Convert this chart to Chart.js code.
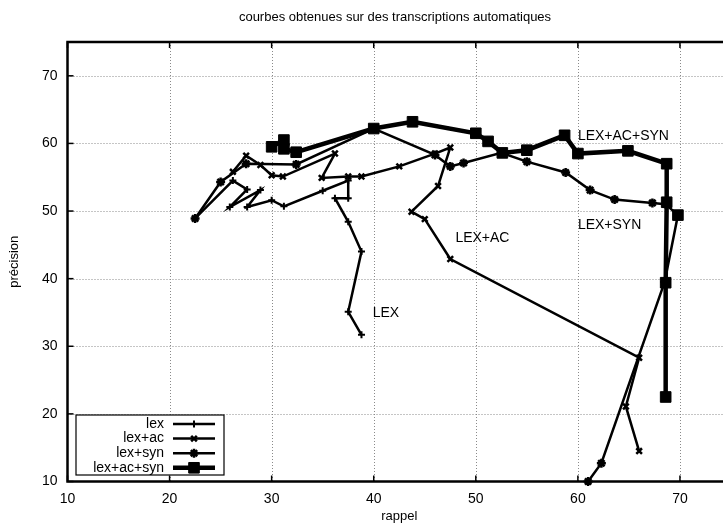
<!DOCTYPE html>
<html><head><meta charset="utf-8">
<script src="https://cdn.jsdelivr.net/npm/chart.js@4/dist/chart.umd.min.js"></script>
<style>
html,body{margin:0;padding:0;overflow:hidden;background:#fff;width:723px;height:525px}
#wrap{width:740px;height:525px}
canvas{display:block}
</style>
</head><body><div id="wrap"><canvas id="c" width="740" height="525"></canvas></div>
<script>
const FONT = '"Liberation Sans", Arial, Helvetica, sans-serif';
const chartTitle = 'courbes obtenues sur des transcriptions automatiques';
const xTitle = 'rappel';
const yTitle = 'précision';
const xTicks = [10, 20, 30, 40, 50, 60, 70];
const yTicks = [10, 20, 30, 40, 50, 60, 70];
const seriesNames = ['lex', 'lex+ac', 'lex+syn', 'lex+ac+syn'];

const lexRecall    = [22.5, 26.2, 27.6, 25.9, 28.9, 27.6, 30.0, 31.2, 35.0, 37.5, 37.5, 36.2, 37.5, 38.8, 37.5, 38.8];
const lexPrecision = [48.9, 54.5, 53.2, 50.6, 53.1, 50.6, 51.6, 50.7, 53.0, 54.5, 51.9, 51.9, 48.4, 44.0, 35.1, 31.7];

const lexAcRecall    = [26.2, 27.5, 28.9, 30.0, 31.1, 36.2, 34.9, 37.5, 38.8, 42.5, 46.0, 47.5, 46.3, 43.7, 45.0, 47.5, 66.0, 64.7, 66.0];
const lexAcPrecision = [55.8, 58.2, 56.8, 55.3, 55.1, 58.5, 54.9, 55.1, 55.1, 56.6, 58.5, 59.4, 53.7, 49.9, 48.8, 42.9, 28.3, 21.1, 14.5];

const lexSynRecall    = [22.5, 25.0, 27.5, 32.4, 40.0, 46.0, 47.5, 48.8, 52.5, 55.0, 58.8, 61.2, 63.6, 67.3, 68.6, 69.8, 68.5, 62.3, 61.0];
const lexSynPrecision = [48.9, 54.3, 57.0, 56.9, 62.2, 58.3, 56.6, 57.1, 58.6, 57.3, 55.7, 53.1, 51.7, 51.2, 51.0, 49.4, 39.5, 12.7, 10.0];

const lexAcSynRecall    = [30.0, 31.2, 31.2, 32.4, 40.0, 43.8, 50.0, 51.2, 52.6, 55.0, 58.7, 60.0, 64.9, 68.7, 68.7, 68.6, 68.6, 69.8, 69.8];
const lexAcSynPrecision = [59.5, 60.5, 59.2, 58.7, 62.2, 63.2, 61.5, 60.3, 58.6, 59.0, 61.2, 58.5, 58.9, 57.0, 51.3, 39.4, 22.5, null, 49.4];

const curveLabels = ['LEX', 'LEX+AC', 'LEX+SYN', 'LEX+AC+SYN'];
const curveLabelX = [39.9, 48.0, 60.0, 60.0];
const curveLabelY = [34.9, 46.0, 47.9, 61.1];

function pts(xs, ys){ return xs.map((v,i)=>({x:v, y:ys[i]})); }

const styles = [
  {pointStyle:'cross',    pointRadius:3.5, borderWidth:2.5, pointBorderWidth:2},
  {pointStyle:'crossRot', pointRadius:4,   borderWidth:2.5, pointBorderWidth:2.5},
  {pointStyle:'star',     pointRadius:4.5, borderWidth:2.5, pointBorderWidth:2.5},
  {pointStyle:'rect',     pointRadius:7.5, borderWidth:4.5, pointBorderWidth:1}
];
const seriesData = [
  pts(lexRecall, lexPrecision),
  pts(lexAcRecall, lexAcPrecision),
  pts(lexSynRecall, lexSynPrecision),
  pts(lexAcSynRecall, lexAcSynPrecision)
];

const datasets = seriesNames.map((n,i)=>({
  label:n, data:seriesData[i],
  borderColor:'#000', backgroundColor:'#000',
  pointBackgroundColor:'#000', pointBorderColor:'#000',
  pointStyle:styles[i].pointStyle, pointRadius:styles[i].pointRadius,
  pointBorderWidth:styles[i].pointBorderWidth, borderWidth:styles[i].borderWidth,
  tension:0, spanGaps:false, clip:false, fill:false, borderJoinStyle:'miter'
}));

function drawMarker(ctx, st, x, y){
  if (Chart.helpers && Chart.helpers.drawPoint) {
    ctx.fillStyle='#000'; ctx.strokeStyle='#000';
    ctx.lineWidth = st.pointBorderWidth;
    Chart.helpers.drawPoint(ctx, {pointStyle:st.pointStyle, radius:st.pointRadius, rotation:0, borderWidth:st.pointBorderWidth}, x, y);
  }
}

const deco = {
  id:'deco',
  beforeDatasetsDraw(chart){
    const {ctx, chartArea:a, scales:{x, y}} = chart;
    ctx.save();
    ctx.strokeStyle = '#8a8a8a'; ctx.lineWidth = 1; ctx.setLineDash([1,2]);
    xTicks.forEach(v=>{
      if (v === x.min) return;
      const px = Math.round(x.getPixelForValue(v)) + 0.5;
      ctx.beginPath(); ctx.moveTo(px, a.top); ctx.lineTo(px, a.bottom); ctx.stroke();
    });
    yTicks.forEach(v=>{
      if (v === y.min) return;
      const py = Math.round(y.getPixelForValue(v)) + 0.5;
      ctx.beginPath(); ctx.moveTo(a.left, py); ctx.lineTo(a.right, py); ctx.stroke();
    });
    ctx.setLineDash([]); ctx.strokeStyle = '#000'; ctx.lineWidth = 1.5;
    xTicks.forEach(v=>{
      const px = x.getPixelForValue(v);
      ctx.beginPath(); ctx.moveTo(px, a.bottom); ctx.lineTo(px, a.bottom-6);
      ctx.moveTo(px, a.top); ctx.lineTo(px, a.top+6); ctx.stroke();
    });
    yTicks.forEach(v=>{
      const py = y.getPixelForValue(v);
      ctx.beginPath(); ctx.moveTo(a.left, py); ctx.lineTo(a.left+6, py); ctx.stroke();
    });
    ctx.lineWidth = 2.5;
    ctx.strokeRect(a.left, a.top, a.right-a.left, a.bottom-a.top);
    ctx.restore();
  },
  afterDatasetsDraw(chart){
    const {ctx, chartArea:a, scales:{x, y}} = chart;
    ctx.save();
    ctx.fillStyle = '#000';
    ctx.font = '14px ' + FONT;
    ctx.textAlign = 'left'; ctx.textBaseline = 'middle';
    curveLabels.forEach((t,i)=>{
      ctx.fillText(t, x.getPixelForValue(curveLabelX[i]), y.getPixelForValue(curveLabelY[i]));
    });
    const bx = a.left + 8.5, by = a.bottom - 66.5, bw = 148, bh = 60;
    ctx.fillStyle = '#fff'; ctx.fillRect(bx, by, bw, bh);
    ctx.strokeStyle = '#000'; ctx.lineWidth = 1.2; ctx.strokeRect(bx, by, bw, bh);
    ctx.font = '14px ' + FONT; ctx.textAlign = 'right';
    chart.data.datasets.forEach((ds,i)=>{
      const ly = by + 9 + i*14.6;
      ctx.fillStyle='#000';
      ctx.fillText(ds.label, bx + 88, ly);
      ctx.strokeStyle = '#000'; ctx.lineWidth = ds.borderWidth;
      ctx.beginPath(); ctx.moveTo(bx + 97, ly); ctx.lineTo(bx + 139, ly); ctx.stroke();
      drawMarker(ctx, styles[i], bx + 118, ly);
    });
    ctx.restore();
  },
  afterDraw(chart){
    const {ctx} = chart;
    ctx.save();
    ctx.fillStyle = '#000'; ctx.font = '13px ' + FONT;
    ctx.textAlign = 'center'; ctx.textBaseline = 'middle';
    ctx.fillText(chartTitle, 395, 17);
    ctx.restore();
  }
};

new Chart(document.getElementById('c'), {
  type:'line',
  data:{datasets},
  options:{
    responsive:false, animation:false, devicePixelRatio:1,
    layout:{padding:{top:42, right:9, left:0, bottom:0}},
    plugins:{legend:{display:false}, tooltip:{enabled:false}, title:{display:false}},
    scales:{
      x:{type:'linear', min:10, max:75,
        afterFit(s){ s.height = 43.5; },
        afterBuildTicks(s){ s.ticks = xTicks.map(v=>({value:v})); },
        grid:{display:false, drawTicks:false}, border:{display:false},
        ticks:{color:'#000', padding:9, maxRotation:0, font:{family:FONT, size:14}},
        title:{display:true, text:xTitle, color:'#000', font:{family:FONT, size:13}, padding:{top:0, bottom:1}}
      },
      y:{type:'linear', min:10, max:75,
        afterFit(s){ s.width = 67.5; },
        afterBuildTicks(s){ s.ticks = yTicks.map(v=>({value:v})); },
        grid:{display:false, drawTicks:false}, border:{display:false},
        ticks:{color:'#000', padding:10, font:{family:FONT, size:14}},
        title:{display:true, text:yTitle, color:'#000', font:{family:FONT, size:13}, padding:{top:7, bottom:0}}
      }
    }
  },
  plugins:[deco]
});
</script>
</body></html>
